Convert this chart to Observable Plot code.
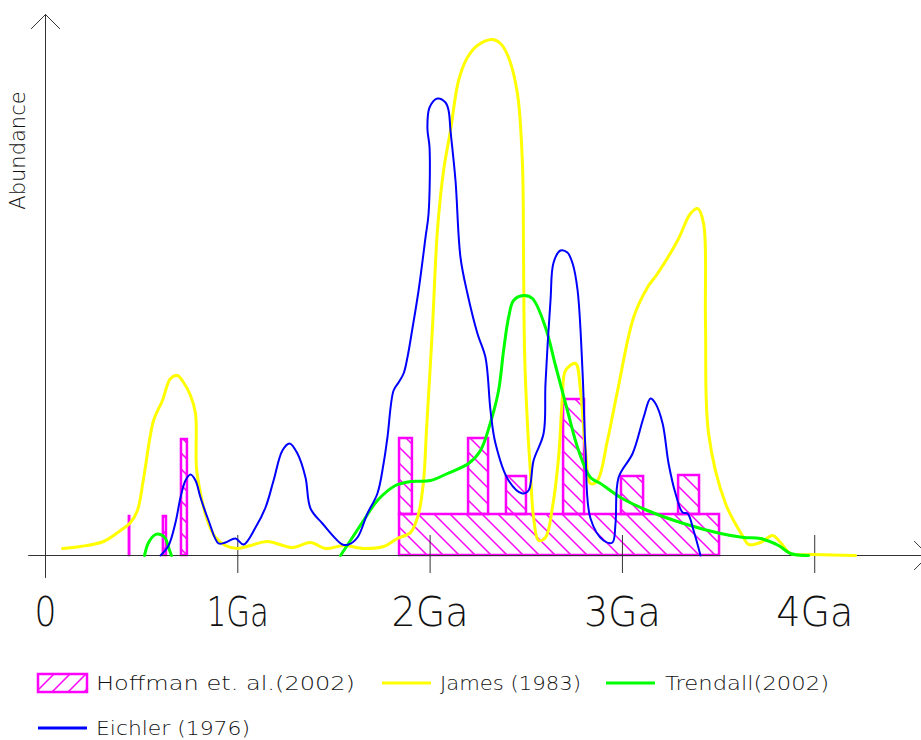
<!DOCTYPE html>
<html><head><meta charset="utf-8">
<script src="https://cdn.jsdelivr.net/npm/d3@7"></script>
<script src="https://cdn.jsdelivr.net/npm/@observablehq/plot@0.6"></script>
<style>
body{margin:0;background:#fff;}
#chart svg{display:block}
</style></head><body><div id="chart"></div>
<script>
// ---- data (x in Ga, abundance in arbitrary units) ----
const tickValues = [0, 1, 2, 3, 4];
const tickLabels = ["0", "1Ga", "2Ga", "3Ga", "4Ga"];
const yLabel = "Abundance";
const seriesNames = ["Hoffman et. al.(2002)", "James (1983)", "Trendall(2002)", "Eichler (1976)"];

// Hoffman et al. (2002) bars
const hoffX1 = [0.436, 0.613, 0.707, 1.841, 1.841, 2.200, 2.397, 2.694, 2.995, 3.292];
const hoffX2 = [0.438, 0.629, 0.738, 3.505, 1.908, 2.304, 2.501, 2.803, 3.110, 3.401];
const hoffY1 = [0, 0, 0, 0, 41, 41, 41, 41, 41, 41];
const hoffY2 = [39, 39, 116, 41, 117, 117, 79, 156, 79, 80];

// James (1983)
const james = [[0.088,7],[0.182,9],[0.302,14],[0.390,25],[0.442,33],[0.478,45],[0.510,77],[0.562,135],[0.608,155],[0.650,177],[0.686,180],[0.718,173],[0.754,160],[0.780,142],[0.785,88],[0.806,62],[0.842,35],[0.884,18],[0.936,10],[0.998,7],[1.066,10],[1.154,14],[1.284,8],[1.378,13],[1.456,7],[1.550,10],[1.654,7],[1.758,9],[1.830,17],[1.898,23],[1.940,42],[1.966,75],[1.981,125],[2.012,227],[2.038,325],[2.070,385],[2.106,425],[2.148,475],[2.194,498],[2.246,510],[2.324,516],[2.366,512],[2.408,498],[2.454,462],[2.480,392],[2.486,292],[2.491,205],[2.506,132],[2.522,82],[2.538,38],[2.564,15],[2.600,18],[2.636,48],[2.668,98],[2.688,158],[2.704,185],[2.756,192],[2.782,165],[2.808,105],[2.834,72],[2.870,75],[2.922,115],[2.975,165],[3.058,238],[3.130,268],[3.183,282],[3.287,315],[3.354,342],[3.391,347],[3.422,332],[3.432,232],[3.448,122],[3.536,52],[3.630,18],[3.656,11],[3.718,13],[3.781,20],[3.822,13],[3.874,2],[3.994,1],[4.212,0]];

// Trendall (2002)
const trendallA = [[0.515,0],[0.536,13],[0.572,21],[0.598,21],[0.624,17],[0.640,8],[0.655,0]];
const trendallB = [[1.534,0],[1.586,15],[1.654,35],[1.726,55],[1.820,70],[1.898,74],[2.002,75],[2.090,82],[2.200,92],[2.262,105],[2.314,133],[2.356,165],[2.382,205],[2.408,238],[2.434,255],[2.486,260],[2.532,257],[2.600,228],[2.652,190],[2.714,145],[2.772,105],[2.834,78],[2.886,72],[2.990,58],[3.130,45],[3.318,32],[3.510,22],[3.630,18],[3.718,17],[3.812,10],[3.874,2],[3.968,0]];

// Eichler (1976)
const eichler = [[0.598,0],[0.640,10],[0.676,33],[0.702,58],[0.728,75],[0.754,81],[0.780,75],[0.806,58],[0.848,35],[0.900,12],[0.936,13],[0.988,17],[1.030,11],[1.092,28],[1.144,48],[1.186,75],[1.232,105],[1.269,112],[1.310,102],[1.352,78],[1.378,47],[1.440,32],[1.544,11],[1.576,11],[1.622,18],[1.674,42],[1.726,62],[1.758,92],[1.778,118],[1.810,165],[1.836,173],[1.862,182],[1.882,198],[1.908,227],[1.940,265],[1.976,318],[1.992,342],[1.997,408],[1.986,427],[1.997,448],[2.038,457],[2.080,453],[2.096,445],[2.106,425],[2.132,375],[2.158,298],[2.194,262],[2.246,222],[2.288,198],[2.314,145],[2.340,112],[2.408,75],[2.480,62],[2.512,65],[2.538,95],[2.590,122],[2.600,172],[2.626,255],[2.642,293],[2.678,305],[2.714,303],[2.741,292],[2.767,265],[2.793,182],[2.808,105],[2.834,37],[2.902,15],[2.948,13],[2.964,32],[2.980,78],[3.053,102],[3.110,138],[3.146,157],[3.172,152],[3.209,132],[3.240,92],[3.276,62],[3.313,43],[3.339,42],[3.370,25],[3.406,0]];

// ---- styles ----
const MAGENTA = "#ff00ff", YELLOW = "#ffff00", GREEN = "#00ff00", BLUE = "#0000ff", AXIS = "#333";
const FONT = "'DejaVu Sans', sans-serif";
const tickLabelWidths = {"0": 22, "1Ga": 62, "2Ga": 77, "3Ga": 77, "4Ga": 77};

const bars = hoffX1.map((x1, i) => ({x1, x2: hoffX2[i], y1: hoffY1[i], y2: hoffY2[i]}));
const toObj = arr => arr.map(([x, y]) => ({x, y}));
const ticks = tickValues.map((v, i) => ({v, label: tickLabels[i]}));

const plot = Plot.plot({
  width: 921, height: 650,
  marginLeft: 45, marginRight: 1, marginTop: 14, marginBottom: 95,
  x: {domain: [0, 4.55], axis: null},
  y: {domain: [0, 541], axis: null},
  style: {background: "white", overflow: "visible"},
  marks: [
    Plot.rect(bars, {x1: "x1", x2: "x2", y1: "y1", y2: "y2", fill: "url(#hoffHatch)", stroke: MAGENTA, strokeWidth: 2.5}),
    Plot.arrow([0], {x1: -0.088, x2: 4.592, y1: 0, y2: 0, stroke: AXIS, strokeWidth: 1, headLength: 30, headAngle: 90}),
    Plot.arrow([0], {x1: 0, x2: 0, y1: -22, y2: 541, stroke: AXIS, strokeWidth: 1, headLength: 30, headAngle: 90}),
    Plot.ruleX(tickValues.slice(1), {y1: -18, y2: 20, stroke: AXIS, strokeWidth: 1}),
    Plot.line(toObj(james), {x: "x", y: "y", stroke: YELLOW, strokeWidth: 3, curve: "catmull-rom"}),
    Plot.line(toObj(trendallA), {x: "x", y: "y", stroke: GREEN, strokeWidth: 3, curve: "catmull-rom"}),
    Plot.line(toObj(trendallB), {x: "x", y: "y", stroke: GREEN, strokeWidth: 3, curve: "catmull-rom"}),
    Plot.line(toObj(eichler), {x: "x", y: "y", stroke: BLUE, strokeWidth: 2, curve: "catmull-rom"}),
    Plot.text(ticks, {x: "v", y: 0, text: "label", dy: 58, fontSize: 40, fontFamily: FONT, fontWeight: 200, fill: "#111"}),
    Plot.text([yLabel], {x: -0.14, y: 405, text: d => d, rotate: -90, fontSize: 21, fontFamily: FONT, fontWeight: 200, fill: "#111"})
  ]
});

const svg = d3.select(plot);
const defs = svg.insert("defs", ":first-child");
const pat = defs.append("pattern").attr("id", "hoffHatch").attr("patternUnits", "userSpaceOnUse")
  .attr("width", 16).attr("height", 16);
pat.append("path").attr("d", "M-4,-4L20,20M-4,12L4,20M12,-4L20,4").attr("stroke", MAGENTA).attr("stroke-width", 1.5);
svg.selectAll("text").each(function() {
  const t = this.textContent;
  if (tickLabelWidths[t] !== undefined) {
    this.setAttribute("textLength", tickLabelWidths[t]);
    this.setAttribute("lengthAdjust", "spacingAndGlyphs");
  }
});
document.getElementById("chart").appendChild(plot);

// ---- legend ----
const leg = d3.select("#chart").append("svg").attr("width", 921).attr("height", 90).style("display", "block");
const ld = leg.append("defs");
const lp = ld.append("pattern").attr("id", "legHatch").attr("patternUnits", "userSpaceOnUse")
  .attr("width", 16).attr("height", 16).attr("x", 38).attr("y", 24);
lp.append("path").attr("d", "M-4,20L20,-4M-4,4L4,-4M12,20L20,12").attr("stroke", MAGENTA).attr("stroke-width", 1.5);
const legendItems = [
  {kind: "box", color: MAGENTA, sx: 38, tx: 96, tw: 259, y: 33},
  {kind: "line", color: YELLOW, sx: 382, tx: 440, tw: 141, y: 33},
  {kind: "line", color: GREEN, sx: 606, tx: 665, tw: 164, y: 33},
  {kind: "line", color: BLUE, sx: 38, tx: 96, tw: 154, y: 78}
];
legendItems.forEach((it, i) => {
  if (it.kind === "box") {
    leg.append("rect").attr("x", it.sx).attr("y", it.y - 9).attr("width", 49).attr("height", 18)
      .attr("fill", "url(#legHatch)").attr("stroke", it.color).attr("stroke-width", 2.5);
  } else {
    leg.append("line").attr("x1", it.sx).attr("x2", it.sx + 49).attr("y1", it.y).attr("y2", it.y)
      .attr("stroke", it.color).attr("stroke-width", 3);
  }
  leg.append("text").attr("x", it.tx).attr("y", it.y).attr("dy", "0.35em")
    .attr("font-family", FONT).attr("font-weight", 200).attr("font-size", 19).attr("fill", "#111")
    .attr("textLength", it.tw).attr("lengthAdjust", "spacingAndGlyphs").text(seriesNames[i]);
});
</script></body></html>
